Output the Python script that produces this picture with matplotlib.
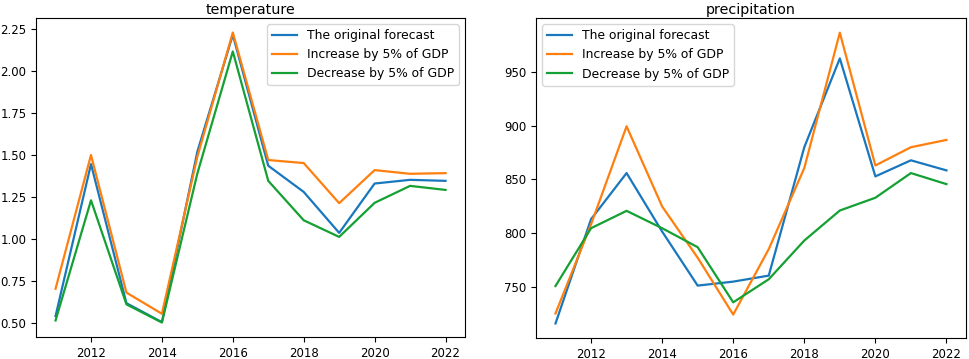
import matplotlib.pyplot as plt

years = list(range(2011, 2023))
labels = ['The original forecast', 'Increase by 5% of GDP', 'Decrease by 5% of GDP']
colors = ['#1877bd', '#ff7f0e', '#14a032']

# temperature
temp_orig = [0.54, 1.446, 0.617, 0.504, 1.52, 2.216, 1.436, 1.28, 1.036, 1.33, 1.352, 1.346]
temp_up = [0.703, 1.50, 0.68, 0.554, 1.49, 2.23, 1.47, 1.452, 1.213, 1.41, 1.388, 1.392]
temp_down = [0.514, 1.23, 0.61, 0.502, 1.39, 2.117, 1.346, 1.111, 1.012, 1.215, 1.316, 1.292]

# precipitation
prec_orig = [715.7, 812.9, 855.9, 801.4, 751.0, 754.7, 760.3, 880.0, 962.8, 852.8, 867.8, 858.4]
prec_up = [725.0, 808.0, 899.5, 824.8, 777.0, 724.0, 785.0, 860.6, 986.8, 863.0, 880.0, 886.8]
prec_down = [750.6, 804.5, 820.7, 804.5, 786.8, 735.4, 756.9, 793.0, 821.0, 832.9, 855.9, 845.6]

plt.rcParams['font.size'] = 8.5

fig = plt.figure(figsize=(9.69, 3.59), dpi=100)
ax1 = fig.add_axes([0.0372, 0.0613, 0.4427, 0.8886])
ax2 = fig.add_axes([0.5531, 0.0585, 0.4438, 0.891])

for ax, series, title, loc in [
    (ax1, [temp_orig, temp_up, temp_down], 'temperature', 'upper right'),
    (ax2, [prec_orig, prec_up, prec_down], 'precipitation', 'upper left'),
]:
    for vals, lab, c in zip(series, labels, colors):
        ax.plot(years, vals, label=lab, color=c, lw=1.6)
    ax.set_title(title, fontsize=10.3, pad=3)
    ax.legend(loc=loc, fontsize=8.9)

ax2.set_yticks([750, 800, 850, 900, 950])

fig.savefig('out.png', dpi=100)
